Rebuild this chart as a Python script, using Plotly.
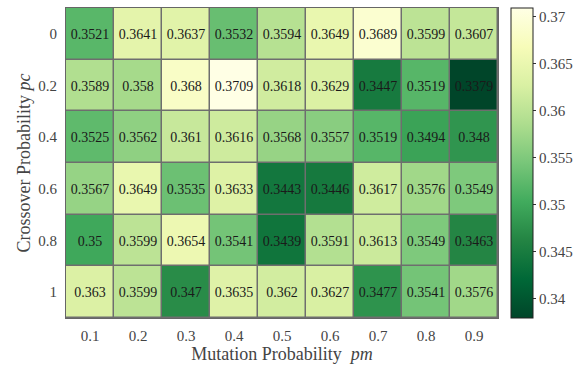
import plotly.graph_objects as go

# Mutation probability (columns) and crossover probability (rows)
pm_labels = ["0.1", "0.2", "0.3", "0.4", "0.5", "0.6", "0.7", "0.8", "0.9"]
pc_labels = ["0", "0.2", "0.4", "0.6", "0.8", "1"]

row_pc_0 = [0.3521, 0.3641, 0.3637, 0.3532, 0.3594, 0.3649, 0.3689, 0.3599, 0.3607]
row_pc_02 = [0.3589, 0.358, 0.368, 0.3709, 0.3618, 0.3629, 0.3447, 0.3519, 0.3379]
row_pc_04 = [0.3525, 0.3562, 0.361, 0.3616, 0.3568, 0.3557, 0.3519, 0.3494, 0.348]
row_pc_06 = [0.3567, 0.3649, 0.3535, 0.3633, 0.3443, 0.3446, 0.3617, 0.3576, 0.3549]
row_pc_08 = [0.35, 0.3599, 0.3654, 0.3541, 0.3439, 0.3591, 0.3613, 0.3549, 0.3463]
row_pc_1 = [0.363, 0.3599, 0.347, 0.3635, 0.362, 0.3627, 0.3477, 0.3541, 0.3576]

colorbar_ticks = [0.34, 0.345, 0.35, 0.355, 0.36, 0.365, 0.37]

z = [row_pc_0, row_pc_02, row_pc_04, row_pc_06, row_pc_08, row_pc_1]
text = [[str(v) for v in row] for row in z]
zmin = min(min(r) for r in z)
zmax = max(max(r) for r in z)

ylgn = [
    [0.0, "#004529"], [0.125, "#006837"], [0.25, "#238443"],
    [0.375, "#41ab5d"], [0.5, "#78c679"], [0.625, "#addd8e"],
    [0.75, "#d9f0a3"], [0.875, "#f7fcb9"], [1.0, "#ffffe5"],
]

serif = "Times New Roman, Liberation Serif, serif"

fig = go.Figure(go.Heatmap(
    x=pm_labels, y=pc_labels, z=z,
    text=text, texttemplate="%{text}",
    textfont=dict(family=serif, size=14, color="#1a1a1a"),
    colorscale=ylgn, zmin=zmin, zmax=zmax,
    xgap=1.5, ygap=1.5,
    colorbar=dict(
        x=1.03, xanchor="left", xpad=0, ypad=0,
        y=0.5, len=1, lenmode="fraction", thickness=22,
        outlinecolor="#222", outlinewidth=1,
        tickvals=colorbar_ticks, ticktext=[str(t) for t in colorbar_ticks],
        ticks="outside", ticklen=3, tickcolor="#333",
        tickfont=dict(family=serif, size=15, color="#444"),
    ),
))

fig.update_xaxes(
    title=dict(text="Mutation Probability\u00a0\u00a0<i>pm</i>", font=dict(family=serif, size=18, color="#444"), standoff=3),
    tickfont=dict(family=serif, size=15, color="#444"),
    ticklabelstandoff=4,
    showline=True, linecolor="#666", linewidth=1, mirror=True,
    ticks="", showgrid=False, zeroline=False,
)
fig.update_yaxes(
    title=dict(text="Crossover Probability <i>pc</i>", font=dict(family=serif, size=18, color="#444"), standoff=2),
    tickfont=dict(family=serif, size=15, color="#444"),
    ticklabelstandoff=5,
    autorange="reversed",
    showline=True, linecolor="#666", linewidth=1, mirror=True,
    ticks="", showgrid=False, zeroline=False,
)

fig.update_layout(
    width=584, height=371,
    margin=dict(l=66, r=86, t=8, b=53),
    font=dict(family=serif, color="#444"),
    plot_bgcolor="#6e6e6e", paper_bgcolor="white",
)

fig.write_html("out.html")
